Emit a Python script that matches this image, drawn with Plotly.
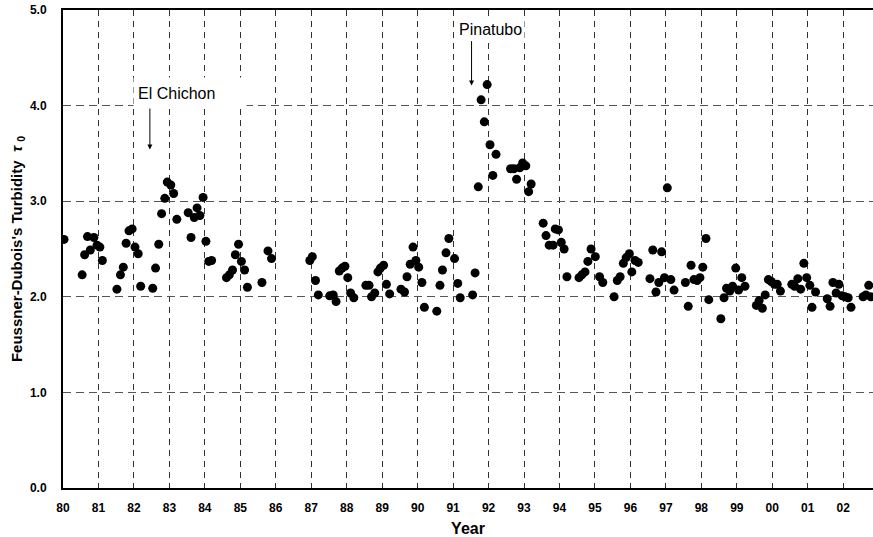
import plotly.graph_objects as go

year = [
    1980.03, 1980.54, 1980.61, 1980.69, 1980.77, 1980.87, 1980.96, 1981.04, 1981.11,
    1981.52, 1981.62, 1981.70, 1981.78, 1981.86, 1981.95, 1982.03, 1982.12, 1982.19,
    1982.53, 1982.61, 1982.70, 1982.78, 1982.87, 1982.94, 1983.04, 1983.12, 1983.21,
    1983.53, 1983.61, 1983.70, 1983.78, 1983.86, 1983.95, 1984.03, 1984.11, 1984.19,
    1984.61, 1984.69, 1984.78, 1984.86, 1984.95, 1985.03, 1985.12, 1985.20,
    1985.61, 1985.78, 1985.88,
    1986.96, 1987.03, 1987.12, 1987.20,
    1987.52, 1987.62, 1987.70, 1987.79, 1987.87, 1987.95, 1988.03, 1988.11, 1988.20,
    1988.54, 1988.63, 1988.70, 1988.79, 1988.88, 1988.95, 1989.04, 1989.12, 1989.21,
    1989.53, 1989.63, 1989.70, 1989.79, 1989.87, 1989.95, 1990.03, 1990.12, 1990.19,
    1990.54, 1990.63, 1990.70, 1990.80, 1990.88, 1991.04, 1991.13, 1991.20,
    1991.55, 1991.62, 1991.71, 1991.79, 1991.88, 1991.96, 1992.04, 1992.12, 1992.21,
    1992.62, 1992.71, 1992.79, 1992.88, 1992.96, 1993.05, 1993.13, 1993.20,
    1993.54, 1993.62, 1993.71, 1993.82, 1993.88, 1993.97, 1994.05, 1994.13, 1994.21,
    1994.55, 1994.63, 1994.72, 1994.80, 1994.89, 1995.01, 1995.13, 1995.22,
    1995.54, 1995.63, 1995.71, 1995.80, 1995.88, 1995.97, 1996.04, 1996.13, 1996.22,
    1996.55, 1996.63, 1996.72, 1996.80, 1996.88, 1996.96, 1997.04, 1997.14, 1997.23,
    1997.55, 1997.63, 1997.71, 1997.79, 1997.88, 1997.96, 1998.04, 1998.13, 1998.21,
    1998.55, 1998.64, 1998.71, 1998.80, 1998.88, 1998.97, 1999.05, 1999.14, 1999.23,
    1999.55, 1999.63, 1999.72, 1999.80, 1999.89, 1999.97, 2000.06, 2000.14, 2000.23,
    2000.55, 2000.63, 2000.72, 2000.80, 2000.89, 2000.97, 2001.06, 2001.12, 2001.22,
    2001.55, 2001.63, 2001.71, 2001.80, 2001.88, 2001.97, 2002.05, 2002.14, 2002.22,
    2002.56, 2002.64, 2002.72, 2002.78,
]

tau = [
    2.60, 2.23, 2.44, 2.63, 2.49, 2.62, 2.54, 2.52, 2.38,
    2.08, 2.23, 2.31, 2.56, 2.69, 2.71, 2.52, 2.45, 2.11,
    2.09, 2.30, 2.55, 2.87, 3.03, 3.20, 3.17, 3.08, 2.81,
    2.88, 2.62, 2.83, 2.93, 2.85, 3.04, 2.58, 2.37, 2.38,
    2.20, 2.23, 2.28, 2.44, 2.55, 2.37, 2.28, 2.10,
    2.15, 2.48, 2.40,
    2.38, 2.42, 2.17, 2.02,
    2.01, 2.02, 1.95, 2.27, 2.30, 2.32, 2.20, 2.04, 1.99,
    2.12, 2.12, 2.00, 2.04, 2.26, 2.30, 2.33, 2.13, 2.03,
    2.08, 2.05, 2.21, 2.34, 2.52, 2.38, 2.31, 2.15, 1.89,
    1.85, 2.12, 2.28, 2.46, 2.61, 2.40, 2.14, 1.99,
    2.02, 2.25, 3.15, 4.06, 3.83, 4.22, 3.59, 3.27, 3.49,
    3.34, 3.34, 3.23, 3.35, 3.40, 3.37, 3.10, 3.18,
    2.77, 2.64, 2.54, 2.54, 2.71, 2.70, 2.57, 2.50, 2.21,
    2.20, 2.23, 2.26, 2.37, 2.50, 2.42, 2.21, 2.15,
    2.00, 2.17, 2.21, 2.35, 2.41, 2.45, 2.26, 2.38, 2.36,
    2.19, 2.49, 2.05, 2.15, 2.47, 2.20, 3.14, 2.18, 2.07,
    2.15, 1.90, 2.33, 2.18, 2.17, 2.20, 2.31, 2.61, 1.97,
    1.77, 1.99, 2.09, 2.06, 2.11, 2.30, 2.07, 2.20, 2.11,
    1.91, 1.96, 1.88, 2.02, 2.18, 2.16, 2.13, 2.13, 2.06,
    2.13, 2.11, 2.19, 2.08, 2.35, 2.20, 2.12, 1.89, 2.05,
    1.98, 1.90, 2.15, 2.04, 2.13, 2.01, 2.00, 1.99, 1.89,
    2.00, 2.02, 2.12, 2.00,
]

tick_years = list(range(1980, 2003))
tick_labels = ["80", "81", "82", "83", "84", "85", "86", "87", "88", "89", "90",
               "91", "92", "93", "94", "95", "96", "97", "98", "99", "00", "01", "02"]

font_family = "Liberation Sans, Arial, sans-serif"

fig = go.Figure()
fig.add_trace(go.Scatter(
    x=year, y=tau, mode="markers",
    marker=dict(color="black", size=9, line=dict(width=0)),
    showlegend=False, cliponaxis=True,
))

fig.update_layout(
    width=873, height=537,
    margin=dict(l=63, r=0, t=10, b=49),
    paper_bgcolor="white", plot_bgcolor="white",
    font=dict(family=font_family, color="black"),
    xaxis=dict(
        range=[1980, 2002.84],
        tickvals=tick_years, ticktext=tick_labels,
        tickfont=dict(family=font_family, size=12, weight="bold", color="black"),
        ticks="", ticklabelstandoff=8,
        showline=True, linecolor="black", linewidth=2, mirror=True,
        showgrid=True, gridcolor="#333333", gridwidth=1, griddash="6px,5px",
        zeroline=False,
        title=dict(text="Year", font=dict(family=font_family, size=16, weight="bold"), standoff=8),
    ),
    yaxis=dict(
        range=[0, 5], tickvals=[0, 1, 2, 3, 4, 5], tickformat=".1f",
        tickfont=dict(family=font_family, size=12, weight="bold", color="black"),
        ticks="", ticklabelstandoff=12,
        showline=True, linecolor="black", linewidth=2,
        showgrid=True, gridcolor="#555555", gridwidth=1, griddash="8px,5px",
        zeroline=False,
        title=dict(text="Feussner-Dubois's Turbidity  <i>τ</i> <sub>0</sub>",
                   font=dict(family=font_family, size=15, weight="bold"), standoff=4),
    ),
    annotations=[
        dict(x=1982.45, y=3.54, ax=1982.45, ay=3.99, axref="x", ayref="y",
             xref="x", yref="y", text="", showarrow=True,
             arrowhead=2, arrowsize=1, arrowwidth=1, arrowcolor="black"),
        dict(x=1991.52, y=4.21, ax=1991.52, ay=4.69, axref="x", ayref="y",
             xref="x", yref="y", text="", showarrow=True,
             arrowhead=2, arrowsize=1, arrowwidth=1, arrowcolor="black"),
        dict(x=1981.98, y=4.13, xref="x", yref="y", text="El Chichon", showarrow=False,
             xanchor="left", yanchor="middle", align="left", width=104, height=22,
             bgcolor="white", borderpad=4,
             font=dict(family=font_family, size=16, color="black")),
        dict(x=1992.06, y=4.80, xref="x", yref="y", text="Pinatubo", showarrow=False,
             xanchor="center", yanchor="middle", bgcolor="white", borderpad=2,
             font=dict(family=font_family, size=16, color="black")),
    ],
)

fig.write_html("out.html")
